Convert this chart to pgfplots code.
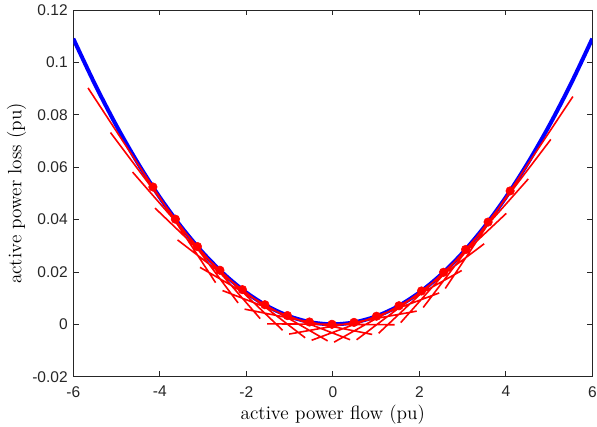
\documentclass[border=0pt]{standalone}
\usepackage{pgfplots}
\pgfplotsset{compat=1.18}
\usepackage{fontspec}
\newfontfamily\tickfont{Liberation Sans}
\definecolor{axgray}{gray}{0.15}
\begin{document}
\begin{tikzpicture}
\begin{axis}[
  name=ax,
  scale only axis,
  width=388pt, height=274.1pt,
  xmin=-6, xmax=6, ymin=-0.02, ymax=0.12,
  xtick={-6,-4,-2,0,2,4,6},
  ytick={-0.02,0,0.02,0.04,0.06,0.08,0.1,0.12},
  scaled y ticks=false,
  /pgf/number format/assume math mode=true,
  yticklabel style={/pgf/number format/fixed, /pgf/number format/precision=2, xshift=-0.7pt},
  xticklabel style={inner xsep=0pt, yshift=-3.6pt},
  ticklabel style={font=\tickfont\fontsize{11.6}{13}\selectfont, text=axgray},
  tick align=inside,
  major tick length=4pt,
  axis line style={axgray, line width=0.5pt},
  every tick/.style={axgray, line width=0.5pt},
  xlabel={active power flow (pu)},
  ylabel={active power loss (pu)},
  label style={font=\fontsize{14.4}{16}\selectfont},
  xlabel style={at={(axis description cs:0.5,0)}, anchor=base, yshift=-31.8pt},
  ylabel style={at={(axis description cs:0,0.5)}, anchor=north, inner sep=0pt, yshift=49.8pt},
  clip=true,
]
% loss curve
\addplot[blue, line width=3pt, smooth] coordinates {
(-6,0.10908) (-5.5,0.09166) (-5,0.07575) (-4.5,0.06136) (-4,0.04848) (-3.5,0.03712)
(-3,0.02727) (-2.5,0.01894) (-2,0.01212) (-1.5,0.00682) (-1,0.00303) (-0.5,0.00076)
(0,0) (0.5,0.00076) (1,0.00303) (1.5,0.00682) (2,0.01212) (2.5,0.01894) (3,0.02727)
(3.5,0.03712) (4,0.04848) (4.5,0.06136) (5,0.07575) (5.5,0.09166) (6,0.10908)};
% tangent segments
\addplot[red, line width=1.2pt] coordinates {
(-5.66,0.09026) (-2.71,0.01590)

(-5.14,0.07323) (-2.19,0.00816)

(-4.63,0.05814) (-1.68,0.00218)

(-4.11,0.04437) (-1.16,-0.00229)

(-3.59,0.03223) (-0.64,-0.00513)

(-3.07,0.02174) (-0.12,-0.00633)

(-2.55,0.01289) (0.40,-0.00589)

(-2.04,0.00579) (0.91,-0.00386)

(-1.52,0.00018) (1.43,-0.00017)

(-1.01,-0.00373) (1.94,0.00503)

(-0.49,-0.00609) (2.46,0.01197)

(0.03,-0.00681) (2.98,0.02054)

(0.55,-0.00590) (3.50,0.03075)

(1.06,-0.00341) (4.01,0.04235)

(1.57,0.00065) (4.52,0.05553)

(2.09,0.00642) (5.04,0.07060)

(2.60,0.01367) (5.55,0.08696)
};
% linearization points
\addplot[only marks, mark=*, mark size=3.2pt, red] coordinates {
(-4.16,0.05244) (-3.64,0.04015) (-3.13,0.02968) (-2.61,0.02064) (-2.09,0.01324)
(-1.57,0.00747) (-1.05,0.00334) (-0.54,0.00088) (-0.02,0.0000) (0.49,0.00073)
(1.01,0.00309) (1.53,0.00709) (2.05,0.01273) (2.56,0.01986) (3.07,0.02856)
(3.59,0.03905) (4.10,0.05093)};
\end{axis}
\pgfresetboundingbox
\path ([shift={(-54.8pt,-37.6pt)}]ax.south west) rectangle ([shift={(3.5pt,7.5pt)}]ax.north east);
\end{tikzpicture}
\end{document}
